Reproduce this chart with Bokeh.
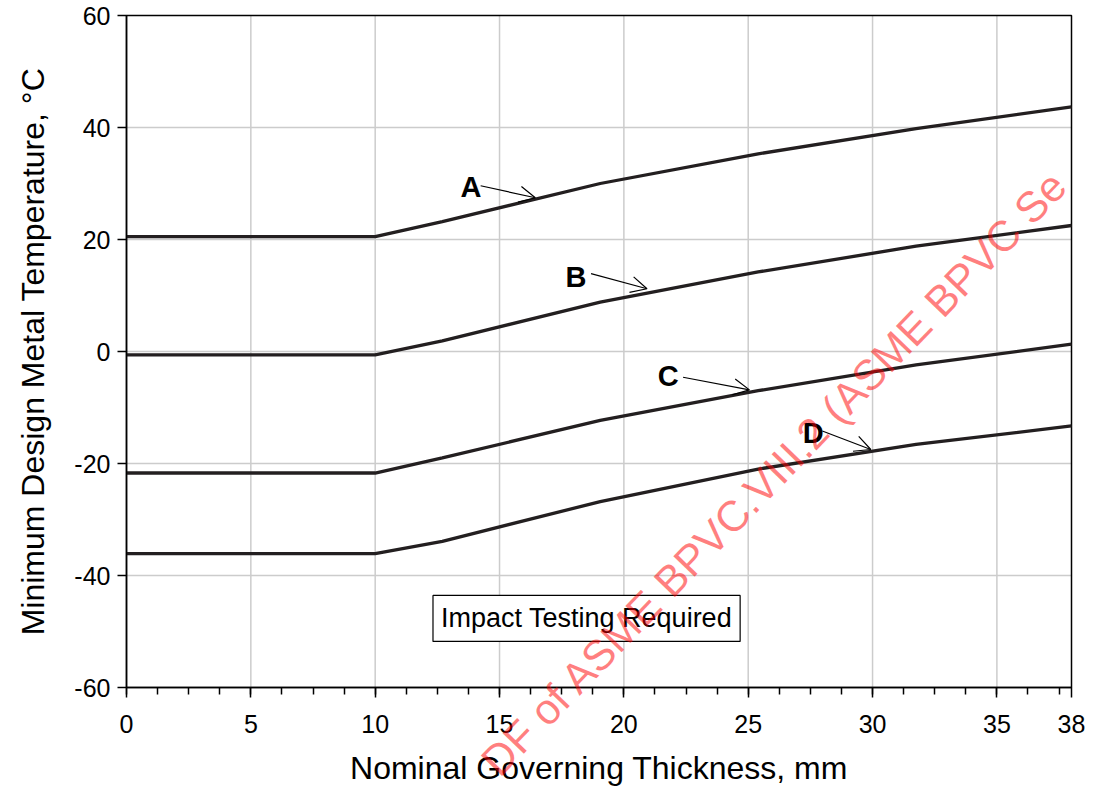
from bokeh.plotting import figure
from bokeh.models import Range1d, FixedTicker, Label, Arrow, OpenHead, ColumnDataSource
from bokeh.core.properties import value
from bokeh.embed import file_html
from bokeh.resources import INLINE

# ---- data ----
thickness = [0, 10, 12.7, 19.05, 25.4, 31.75, 38]
curve_A = [20.5, 20.5, 23.2, 30.0, 35.3, 39.8, 43.7]
curve_B = [-0.6, -0.6, 1.9, 8.8, 14.2, 18.8, 22.5]
curve_C = [-21.7, -21.7, -19.0, -12.3, -7.0, -2.4, 1.3]
curve_D = [-36.1, -36.1, -33.9, -26.8, -21.0, -16.6, -13.3]

curve_names = ["A", "B", "C", "D"]
label_x = [13.85, 18.07, 21.78, 27.61]
label_y = [29.3, 13.27, -4.3, -14.6]
arrow_x_start = [14.24, 18.68, 22.38, 27.98]
arrow_y_start = [29.6, 13.9, -4.6, -14.2]
arrow_x_end = [16.44, 20.93, 25.05, 29.93]
arrow_y_end = [27.45, 11.2, -6.85, -17.5]

x_tick_values = [0, 5, 10, 15, 20, 25, 30, 35, 38]
x_tick_labels = ["0", "5", "10", "15", "20", "25", "30", "35", "38"]
y_tick_values = [-60, -40, -20, 0, 20, 40, 60]
y_tick_labels = ["-60", "-40", "-20", "0", "20", "40", "60"]
x_min, x_max = 0, 38
y_min, y_max = -60, 60

box_text = "Impact Testing Required"
box_x, box_y = 18.5, -47.66
watermark_text = "DF of ASME BPVC.VIII.2 (ASME BPVC Se"
wm_x, wm_y = 26.06, -21.6

x_title = "Nominal Governing Thickness, mm"
y_title = "Minimum Design Metal Temperature, \u00b0C"

FONT = "Liberation Sans"

# ---- layout (pixels) ----
W, H = 1086, 787
PX_LEFT, PX_RIGHT, PX_TOP, PX_BOTTOM = 126, 1071, 15, 687
kx = (PX_RIGHT - PX_LEFT) / (x_max - x_min)
ky = (PX_BOTTOM - PX_TOP) / (y_max - y_min)
x_range = Range1d(x_min - PX_LEFT / kx, x_max + (W - PX_RIGHT) / kx)
y_range = Range1d(y_min - (H - PX_BOTTOM) / ky, y_max + PX_TOP / ky)

p = figure(width=W, height=H, output_backend="svg", toolbar_location=None,
           x_range=x_range, y_range=y_range, min_border=0,
           min_border_left=0, min_border_right=0, min_border_top=0, min_border_bottom=0,
           background_fill_color="white", border_fill_color="white")
p.outline_line_color = None
p.xgrid.visible = False
p.ygrid.visible = False

# grid lines at the tick positions, inside the plot box
gx = x_tick_values[1:-1]
gy = y_tick_values[1:-1]
p.segment(x0=gx, y0=[y_min] * len(gx), x1=gx, y1=[y_max] * len(gx),
          line_color="#cccccc", line_width=1.5)
p.segment(x0=[x_min] * len(gy), y0=gy, x1=[x_max] * len(gy), y1=gy,
          line_color="#cccccc", line_width=1.5)

# plot box
p.quad(left=[x_min], right=[x_max], bottom=[y_min], top=[y_max],
       fill_color=None, line_color="black", line_width=1.5)

# axes pinned to the plot box
minor = [i * 1.25 for i in range(31)]
p.xaxis.ticker = FixedTicker(ticks=x_tick_values, minor_ticks=minor)
p.xaxis.major_label_overrides = {v: l for v, l in zip(x_tick_values, x_tick_labels)}
p.yaxis.ticker = FixedTicker(ticks=y_tick_values)
p.yaxis.major_label_overrides = {v: l for v, l in zip(y_tick_values, y_tick_labels)}
p.xaxis.fixed_location = y_min
p.yaxis.fixed_location = x_min
p.xaxis.bounds = (x_min, x_max)
p.yaxis.bounds = (y_min, y_max)

for ax in (p.xaxis, p.yaxis):
    ax.axis_line_color = "black"
    ax.axis_line_width = 1.5
    ax.major_tick_line_color = "black"
    ax.major_tick_line_width = 1.5
    ax.major_tick_in = 0
    ax.minor_tick_in = 0
    ax.major_label_text_font = FONT
    ax.major_label_text_font_size = "25px"
    ax.major_label_text_color = "black"
    ax.axis_label_text_font = FONT
    ax.axis_label_text_font_size = "32px"
    ax.axis_label_text_font_style = "normal"
    ax.axis_label_text_color = "black"

p.xaxis.major_tick_out = 10
p.xaxis.minor_tick_out = 7
p.xaxis.minor_tick_line_color = "black"
p.xaxis.minor_tick_line_width = 1.5
p.xaxis.major_label_standoff = 17
p.xaxis.axis_label = x_title
p.xaxis.axis_label_standoff = 14

p.yaxis.major_tick_out = 9
p.yaxis.minor_tick_line_color = None
p.yaxis.major_label_standoff = 7
p.yaxis.axis_label = y_title
p.yaxis.axis_label_standoff = 20

# curves
for ys in (curve_A, curve_B, curve_C, curve_D):
    p.line(thickness, ys, line_color="#231f20", line_width=3.3)

# curve letter labels
p.text(x=label_x, y=label_y, text=curve_names, text_font=value(FONT),
       text_font_style="bold", text_font_size="29px", text_color="black",
       text_align="center", text_baseline="middle")

arrow_src = ColumnDataSource(dict(x0=arrow_x_start, y0=arrow_y_start,
                                  x1=arrow_x_end, y1=arrow_y_end))
p.add_layout(Arrow(end=OpenHead(size=16, line_width=1.2, line_color="black"),
                   x_start="x0", y_start="y0", x_end="x1", y_end="y1",
                   source=arrow_src, line_width=1.2, line_color="black"))

# boxed note
p.add_layout(Label(x=box_x, y=box_y, text=box_text, text_align="center",
                   text_baseline="middle", text_font=FONT, text_font_size="27px",
                   text_color="black", border_line_color="black", border_line_width=1.2,
                   background_fill_color="white", padding=8))

# watermark
p.add_layout(Label(x=wm_x, y=wm_y, text=watermark_text, angle=46, angle_units="deg",
                   text_align="center", text_baseline="middle", text_font=FONT,
                   text_font_size="43px", text_color="#ff0000", text_alpha=0.5))

open("out.html", "w").write(file_html(p, INLINE))
